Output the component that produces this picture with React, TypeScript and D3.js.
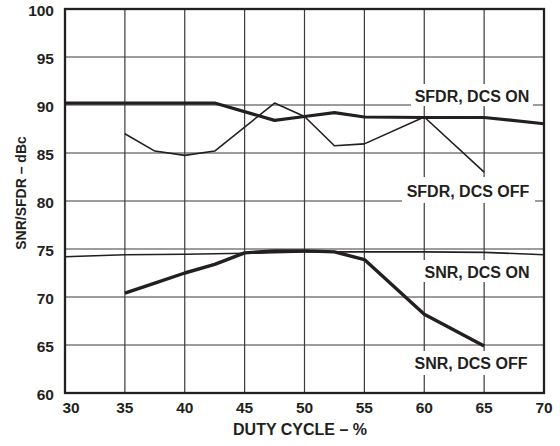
import React from "react";
import * as d3 from "d3";

const xTicks = [30, 35, 40, 45, 50, 55, 60, 65, 70];
const yTicks = [60, 65, 70, 75, 80, 85, 90, 95, 100];

const sfdrOnX = [30, 35, 40, 42.5, 47.5, 50, 52.5, 55, 60, 65, 70];
const sfdrOnY = [90.2, 90.2, 90.2, 90.2, 88.4, 88.8, 89.2, 88.75, 88.7, 88.7, 88.05];

const sfdrOffX = [35, 37.5, 40, 42.5, 47.5, 50, 52.5, 55, 60, 65];
const sfdrOffY = [87.0, 85.2, 84.75, 85.2, 90.2, 88.8, 85.75, 85.95, 88.75, 83.0];

const snrOnX = [30, 35, 40, 45, 50, 55, 60, 65, 70];
const snrOnY = [74.2, 74.4, 74.45, 74.55, 74.7, 74.7, 74.7, 74.65, 74.4];

const snrOffX = [35, 37.5, 40, 42.5, 45, 47.5, 50, 52.5, 55, 60, 65];
const snrOffY = [70.4, 71.45, 72.5, 73.4, 74.6, 74.8, 74.8, 74.7, 73.9, 68.2, 64.9];

const labels = [
  { text: "SFDR, DCS ON", cx: 472, cy: 96.5, box: [411, 84, 122, 22] },
  { text: "SFDR, DCS OFF", cx: 468, cy: 191.5, box: [402, 177, 133, 26] },
  { text: "SNR, DCS ON", cx: 477, cy: 272, box: [419, 260, 114, 22] },
  { text: "SNR, DCS OFF", cx: 471, cy: 363, box: [410, 351, 122, 24] },
];

const W = 560, H = 446;
const L = 65, R = 544, T = 9, B = 393;
const INK = "#231f20";
const FONT = "'Liberation Sans', Arial, Helvetica, sans-serif";

export default function App() {
  const x = d3.scaleLinear().domain([30, 70]).range([L, R]);
  const y = d3.scaleLinear().domain([60, 100]).range([B, T]);
  const line = d3.line<[number, number]>().x((d) => x(d[0])).y((d) => y(d[1]));
  const mk = (xs: number[], ys: number[]) => xs.map((v, i) => [v, ys[i]] as [number, number]);

  return (
    <svg width={W} height={H} style={{ position: "absolute", left: 0, top: 0, background: "#fff" }} fontFamily={FONT}>
      <rect x={0} y={0} width={W} height={H} fill="#fff" />
      {xTicks.map((t) => (
        <line key={"gx" + t} x1={x(t)} x2={x(t)} y1={T} y2={B} stroke="#3a3a3a" strokeWidth={1.2} />
      ))}
      {yTicks.map((t) => (
        <line key={"gy" + t} x1={L} x2={R} y1={y(t)} y2={y(t)} stroke="#3a3a3a" strokeWidth={1.2} />
      ))}
      {labels.map((l) => (
        <rect key={"b" + l.text} x={l.box[0]} y={l.box[1]} width={l.box[2]} height={l.box[3]} fill="#fff" />
      ))}
      <path d={line(mk(snrOnX, snrOnY)) || ""} fill="none" stroke={INK} strokeWidth={1.6} strokeLinejoin="round" />
      <path d={line(mk(sfdrOffX, sfdrOffY)) || ""} fill="none" stroke={INK} strokeWidth={1.6} strokeLinejoin="round" />
      <path d={line(mk(sfdrOnX, sfdrOnY)) || ""} fill="none" stroke={INK} strokeWidth={3.2} strokeLinejoin="round" />
      <path d={line(mk(snrOffX, snrOffY)) || ""} fill="none" stroke={INK} strokeWidth={3.4} strokeLinejoin="round" />
      <rect x={L} y={T} width={R - L} height={B - T} fill="none" stroke={INK} strokeWidth={2.3} />
      {yTicks.map((t) => (
        <text key={"ty" + t} x={54} y={y(t) + 1.5} textAnchor="end" dominantBaseline="central" fontSize={15.5} fontWeight="bold" fill={INK}>
          {t}
        </text>
      ))}
      {xTicks.map((t, i) => (
        <text key={"tx" + t} x={x(t) + (i === 0 ? 6 : 0)} y={407.5} textAnchor="middle" dominantBaseline="central" fontSize={15.5} fontWeight="bold" fill={INK}>
          {t}
        </text>
      ))}
      <text x={300} y={429.5} textAnchor="middle" dominantBaseline="central" fontSize={16} fontWeight="bold" fill={INK}>
        DUTY CYCLE – %
      </text>
      <text transform="translate(21,193) rotate(-90)" textAnchor="middle" dominantBaseline="central" fontSize={14} fontWeight="bold" fill={INK}>
        SNR/SFDR – dBc
      </text>
      {labels.map((l) => (
        <text key={"t" + l.text} x={l.cx} y={l.cy} textAnchor="middle" dominantBaseline="central" fontSize={16} fontWeight="bold" fill={INK}>
          {l.text}
        </text>
      ))}
    </svg>
  );
}
